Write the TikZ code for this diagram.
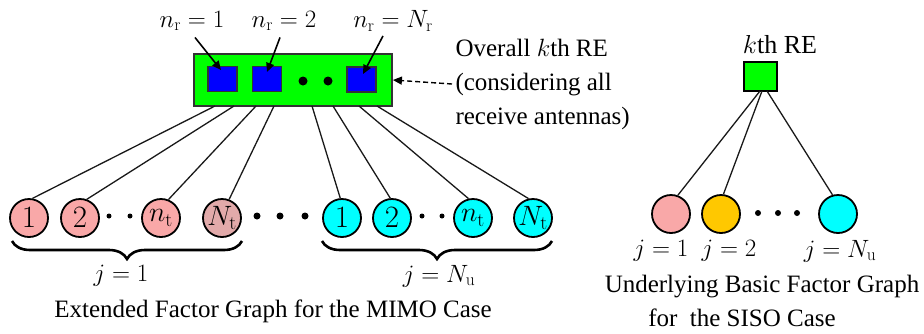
\RequirePackage{fix-cm}
\documentclass[tikz,border=0pt]{standalone}
\usepackage[no-math]{fontspec}
\setmainfont{Liberation Serif}
\usetikzlibrary{arrows.meta,decorations.pathreplacing}
\definecolor{pinkc}{HTML}{F9A8A8}
\definecolor{pinkd}{HTML}{E2AAAA}
\definecolor{cyanc}{HTML}{00FFFF}
\definecolor{orangec}{HTML}{FFC800}
\definecolor{greenc}{HTML}{00FF00}
\definecolor{bluec}{HTML}{0000FF}
\tikzset{
  big/.style={font=\fontsize{25}{30}\selectfont},
  var/.style={circle, draw=black, line width=1.8pt, minimum size=38pt, inner sep=0pt},
  svar/.style={circle, draw=black, line width=1.8pt, minimum size=38pt, inner sep=0pt},
  ant/.style={rectangle, draw=black!80, line width=1.8pt, fill=bluec, minimum width=29pt, minimum height=25pt, inner sep=0pt},
  edge/.style={line width=1.3pt, black!90},
  lab/.style={-{Triangle[length=9pt,width=8pt]}, line width=1.6pt},
  dot/.style={circle, fill=black, inner sep=0pt},
  brc/.style={decorate, decoration={brace, mirror, amplitude=18pt}, line width=2.6pt},
  dig/.style={font=\fontsize{31}{32}\selectfont},
  nt/.style={font=\fontsize{28}{30}\selectfont},
}
\begin{document}
\begin{tikzpicture}[x=1pt,y=-1pt]
\useasboundingbox (0,0) rectangle (924,333);
% top function node
\node[draw=black!80, line width=1.8pt, fill=greenc, minimum width=198pt, minimum height=52pt, inner sep=0pt] (re) at (293,80) {};
\node[ant] (s1) at (222.5,79) {};
\node[ant] (s2) at (267,79) {};
\node[ant] (s3) at (361.5,79.5) {};
\node[dot, minimum size=9pt] (d1) at (303,81) {};
\node[dot, minimum size=9pt] (d2) at (328,81) {};
% labels
\node[big] (nr1) at (192,21) {$n_{\mathrm{r}}=1$};
\node[big] (nr2) at (284,21) {$n_{\mathrm{r}}=2$};
\node[big] (nr3) at (393,21) {$n_{\mathrm{r}}=N_{\mathrm{r}}$};
\coordinate (a1) at (221,70);
\coordinate (a2) at (267,72);
\coordinate (a3) at (363,74);
\draw[lab] ([xshift=3pt,yshift=-3pt]nr1.south) -- (a1);
\draw[lab] ([xshift=-4pt,yshift=-3pt]nr2.south) -- (a2);
\draw[lab] ([xshift=-10pt,yshift=-1pt]nr3.south) -- (a3);
\node[anchor=west, align=left, font=\fontsize{25}{34}\selectfont] (ov) at (452,84) {Overall $k$th RE\\(considering all\\receive antennas)};
\draw[-{Triangle[length=9pt,width=8pt]}, dash pattern=on 5pt off 3pt, line width=1.4pt] (ov.west) -- (re.east);
% variable nodes
\node[var, fill=pinkc, dig] (p1) at (29,218) {$1$};
\node[var, fill=pinkc, dig] (p2) at (80,218) {$2$};
\node[var, fill=pinkc, nt] (p3) at (161,218) {$n_{\mathrm{t}}$};
\node[var, fill=pinkd, nt] (p4) at (222,218) {$N_{\mathrm{t}}$};
\node[var, fill=cyanc, dig] (q1) at (342,218) {$1$};
\node[var, fill=cyanc, dig] (q2) at (392,218) {$2$};
\node[var, fill=cyanc, nt] (q3) at (473,218) {$n_{\mathrm{t}}$};
\node[var, fill=cyanc, nt] (q4) at (533,218) {$N_{\mathrm{t}}$};
\node[dot, minimum size=5pt] (e1) at (109,216) {};
\node[dot, minimum size=5pt] (e2) at (130,216) {};
\node[dot, minimum size=7pt] (e3) at (257,216) {};
\node[dot, minimum size=7pt] (e4) at (280,216) {};
\node[dot, minimum size=7pt] (e5) at (305,216) {};
\node[dot, minimum size=5pt] (e6) at (422,216) {};
\node[dot, minimum size=5pt] (e7) at (442,216) {};
% edges
\coordinate (b1) at (215,106);
\coordinate (b2) at (234,106);
\coordinate (b3) at (256,106);
\coordinate (b4) at (274,106);
\coordinate (b5) at (312,106);
\coordinate (b6) at (333,106);
\coordinate (b7) at (359,106);
\coordinate (b8) at (377,106);
\draw[edge] (p1.80) -- (b1);
\draw[edge] (p2.70) -- (b2);
\draw[edge] (p3.68) -- (b3);
\draw[edge] (p4.69) -- (b4);
\draw[edge] (q1.95) -- (b5);
\draw[edge] (q2.95) -- (b6);
\draw[edge] (q3.103) -- (b7);
\draw[edge] (q4.103) -- (b8);
% braces
\coordinate (br1a) at (12,241);
\coordinate (br1b) at (242,241);
\coordinate (br2a) at (322,241);
\coordinate (br2b) at (552,241);
\draw[brc] (br1a) -- (br1b);
\draw[brc] (br2a) -- (br2b);
\node[big] (j1) at (121,276) {$j=1$};
\node[big] (jn) at (439,276) {$j=N_{\mathrm{u}}$};
\node[big] (cap1) at (273,311) {Extended Factor Graph for the MIMO Case};
% right graph
\node[draw=black, line width=1.8pt, fill=greenc, minimum width=33pt, minimum height=29pt, inner sep=0pt] (sq) at (760.5,76.5) {};
\node[font=\fontsize{26}{30}\selectfont] (kre) at (780,45) {$k$th RE};
\node[svar, fill=pinkc] (r1) at (671,214) {};
\node[svar, fill=orangec] (r2) at (721,214) {};
\node[svar, fill=cyanc] (r3) at (838,214) {};
\node[dot, minimum size=6pt] (f1) at (758,213) {};
\node[dot, minimum size=6pt] (f2) at (778,213) {};
\node[dot, minimum size=6pt] (f3) at (797,213) {};
\coordinate (c1) at (760,91);
\coordinate (c2) at (762,91);
\coordinate (c3) at (767,91);
\draw[edge] (r1.70) -- (c1);
\draw[edge] (r2.83) -- (c2);
\draw[edge] (r3.106) -- (c3);
\node[big] (rj1) at (661,251) {$j=1$};
\node[big] (rj2) at (729,251) {$j=2$};
\node[big] (rj3) at (840,251) {$j=N_{\mathrm{u}}$};
\node[big] (cap2) at (762,287) {Underlying Basic Factor Graph};
\node[big] (cap3) at (742,318) {for\ \ the SISO Case};
\end{tikzpicture}
\end{document}
